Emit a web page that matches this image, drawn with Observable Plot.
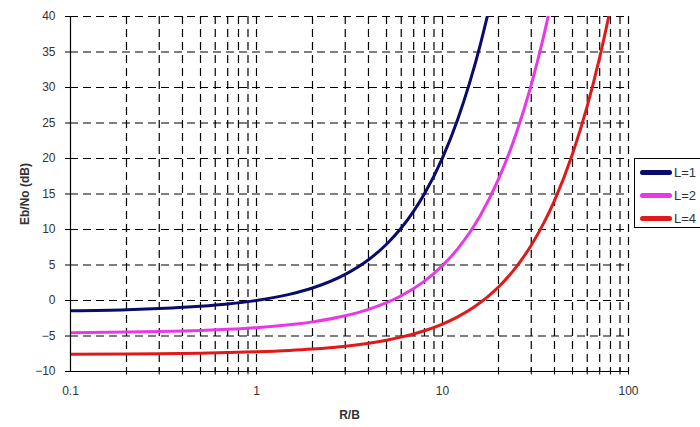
<!DOCTYPE html>
<html>
<head>
<meta charset="utf-8">
<script src="https://cdn.jsdelivr.net/npm/d3@7"></script>
<script src="https://cdn.jsdelivr.net/npm/@observablehq/plot@0.6"></script>
<style>
  html, body { margin:0; padding:0; background:#fff; overflow:hidden; }
  #wrap { position:relative; width:700px; height:427px; overflow:hidden; font-family:"Liberation Sans", Arial, sans-serif; }
  #legend { position:absolute; left:634px; top:158px; width:90px; height:70px; border:1px solid #000; background:#fff; box-sizing:border-box; }
  .row { position:absolute; left:5px; height:16px; display:flex; align-items:center; font-size:13px; color:#333; }
  .sw { width:32px; height:5px; border-radius:3px; margin-right:2px; }
</style>
</head>
<body>
<div id="wrap"></div>
<script>
// Data (R/B vs Eb/No in dB)
const rb1 = [0.1,0.2,0.3,0.5,0.7,1,1.5,2,3,4,5,6,7,8,10,12,14,16,17.4];
const eb1 = [-1.44,-1.29,-1.13,-0.82,-0.50,0,0.86,1.76,3.68,5.74,7.92,10.21,12.59,15.03,20.10,25.33,30.68,36.12,39.97];
const rb2 = [0.1,0.2,0.3,0.5,0.7,1,1.5,2,3,4,5,6,8,10,12,14,16,20,25,30,35,37];
const eb2 = [-4.53,-4.45,-4.37,-4.22,-4.06,-3.83,-3.42,-3.01,-2.15,-1.25,-0.31,0.67,2.73,4.91,7.20,9.58,12.02,17.09,23.65,30.38,37.24,40.01];
const rb4 = [0.1,0.2,0.3,0.5,0.7,1,1.5,2,3,4,5,6,8,10,12,15,20,25,30,35,40,50,60,70,78.3];
const eb4 = [-7.57,-7.54,-7.50,-7.42,-7.34,-7.23,-7.04,-6.84,-6.43,-6.02,-5.60,-5.16,-4.26,-3.32,-2.34,-0.81,1.90,4.78,7.78,10.89,14.08,20.64,27.37,34.23,39.99];
const seriesNames = ["L=1","L=2","L=4"];
const seriesColors = ["#0b0b6e","#e838e8","#e01a1a"];
const xLabelTicks = [0.1,1,10,100];
const xGridTicks = [0.2,0.3,0.4,0.5,0.6,0.7,0.8,0.9,1,2,3,4,5,6,7,8,9,10,20,30,40,50,60,70,80,90,100];
const yTicks = [-10,-5,0,5,10,15,20,25,30,35,40];

const rows = [];
[[rb1,eb1],[rb2,eb2],[rb4,eb4]].forEach(([xs,ys],i) => xs.forEach((x,j) => rows.push({rb:x, eb:ys[j], s:seriesNames[i]})));

const font = "Liberation Sans, Arial, sans-serif";
const chart = Plot.plot({
  width:700, height:427,
  marginLeft:70, marginRight:72, marginTop:16, marginBottom:56,
  style:{fontFamily:font, fontSize:"12px", color:"#333", background:"#fff"},
  x:{type:"log", domain:[0.1,100]},
  y:{domain:[-10,40]},
  color:{domain:seriesNames, range:seriesColors},
  marks:[
    Plot.ruleX(xGridTicks, {stroke:"#000", strokeWidth:1.2, strokeDasharray:"8,5"}),
    Plot.ruleY(yTicks.filter(d => d > -10), {stroke:"#000", strokeWidth:1.2, strokeDasharray:"8,5"}),
    Plot.line(rows, {x:"rb", y:"eb", z:"s", stroke:"s", strokeWidth:3, curve:"monotone-x", clip:true}),
    Plot.ruleX([0.1], {stroke:"#000", strokeWidth:1.2}),
    Plot.ruleY([-10], {stroke:"#000", strokeWidth:1.2}),
    Plot.axisY(yTicks, {tickSize:5, tickPadding:10, stroke:"#000", label:"Eb/No (dB)", labelAnchor:"center", labelOffset:50}),
    Plot.axisX(xGridTicks, {tickSize:7, dy:-3.5, stroke:"#000", tickFormat:() => "", label:null}),
    Plot.axisX(xLabelTicks, {tickSize:0, tickPadding:15, tickFormat:d => String(d), label:"R/B", labelAnchor:"center", labelOffset:47})
  ]
});
document.getElementById("wrap").appendChild(chart);
// bold axis labels, no arrows
chart.querySelectorAll("g[aria-label='y-axis label'] text, g[aria-label='x-axis label'] text").forEach(t => {
  t.setAttribute("font-weight","bold");
  t.textContent = t.textContent.replace(/\s*[→↑←↓]\s*/g, "").trim();
});

const leg = document.createElement("div");
leg.id = "legend";
seriesNames.forEach((n,i) => {
  const r = document.createElement("div");
  r.className = "row";
  r.style.top = (5 + i*23) + "px";
  r.innerHTML = `<span class="sw" style="background:${seriesColors[i]}"></span><span>${n}</span>`;
  leg.appendChild(r);
});
document.getElementById("wrap").appendChild(leg);
</script>
</body>
</html>
